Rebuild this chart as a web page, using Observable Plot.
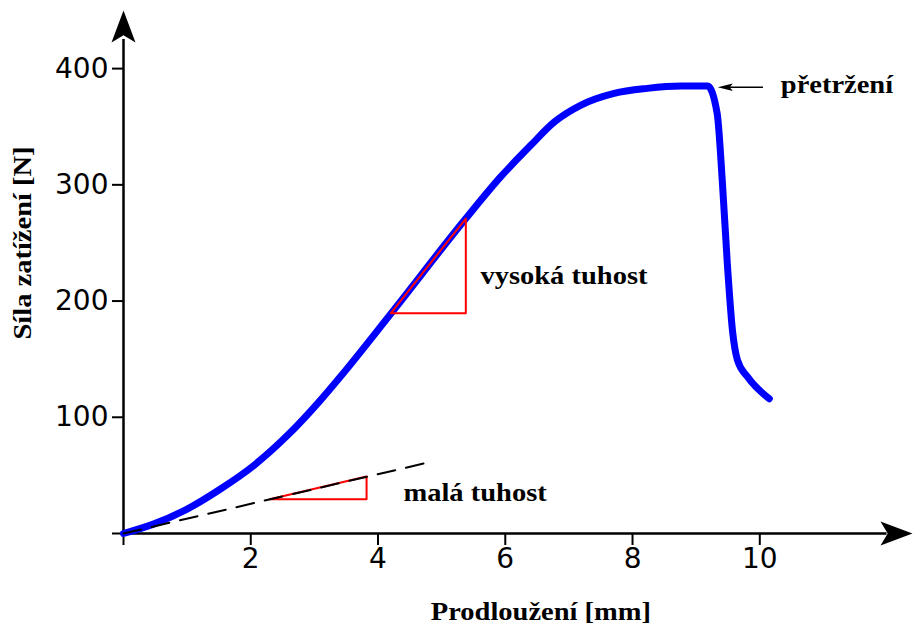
<!DOCTYPE html>
<html><head><meta charset="utf-8">
<script src="https://cdn.jsdelivr.net/npm/d3@7"></script>
<script src="https://cdn.jsdelivr.net/npm/@observablehq/plot@0.6"></script>
<style>body{margin:0;background:#fff;overflow:hidden}</style>
</head><body><div id="chart"></div>
<script>
// Data
const elongation = [0, 0.48, 1.0, 1.53, 2.05, 2.57, 3.10, 3.41, 4.2, 5.38, 5.93, 6.4, 6.77, 7.19, 7.71, 8.23, 8.76, 9.18, 9.33, 9.41, 9.49, 9.57, 9.65, 9.81, 10.15];
const force      = [0, 8.3,  21,  38.5, 58.6, 84,   115,  135, 189, 271,  307,  334, 354,  368.6, 378.7, 383, 385, 385,  361.5, 304, 232, 175, 149, 134.6, 116];

const lowStiffX = [0, 4.78];
const lowStiffY = [0, 61];
const smallTriX = [2.3, 3.82, 3.82, 2.3];
const smallTriY = [29.4, 29.4, 49, 29.4];
const bigTriX = [4.2, 5.38, 5.38, 4.2];
const bigTriY = [189.5, 189.5, 271, 189.5];

const xTicks = [0, 2, 4, 6, 8, 10];
const yTicks = [0, 100, 200, 300, 400];

const labels = [
  {x: 10.33, y: 384, text: "přetržení"},
  {x: 5.61, y: 219.6, text: "vysoká tuhost"},
  {x: 4.4, y: 32.7, text: "malá tuhost"}
];
const xTitle = "Prodloužení [mm]";
const yTitle = "Síla zatížení [N]";

const curve = elongation.map((x, i) => ({x, y: force[i]}));
const dash = lowStiffX.map((x, i) => ({x, y: lowStiffY[i]}));
const smallTri = smallTriX.map((x, i) => ({x, y: smallTriY[i]}));
const bigTri = bigTriX.map((x, i) => ({x, y: bigTriY[i]}));

function head(wf, nf) {
  return {draw(ctx, size) {
    const r = Math.sqrt(size / Math.PI);
    ctx.moveTo(0, -r);
    ctx.lineTo(wf * r, r);
    ctx.lineTo(0, nf * r);
    ctx.lineTo(-wf * r, r);
    ctx.closePath();
  }};
}
const bigHead = head(0.75, 0.55);
const smallHead = head(0.5, 0.6);

const serif = "'Liberation Serif', 'Times New Roman', serif";

const chart = Plot.plot({
  width: 916,
  height: 625,
  marginLeft: 123,
  marginRight: 4,
  marginTop: 10,
  marginBottom: 92,
  x: {domain: [0, 12.4]},
  y: {domain: [0, 450]},
  style: {background: "#fff", fontFamily: "'DejaVu Sans', sans-serif"},
  marks: [
    Plot.axisX({ticks: xTicks, tickFormat: d => d === 0 ? "" : d, tickSize: 12, tickPadding: 3, fontSize: 28, stroke: "#000", strokeWidth: 2, color: "#000", label: null}),
    Plot.axisY({ticks: yTicks, tickFormat: d => d === 0 ? "" : d, tickSize: 11, tickPadding: 4, fontSize: 28, stroke: "#000", strokeWidth: 2, color: "#000", label: null}),
    Plot.ruleX([0], {y1: 0, y2: 425, stroke: "#000", strokeWidth: 2.5}),
    Plot.ruleY([0], {x1: 0, x2: 12.0, stroke: "#000", strokeWidth: 2.5}),
    Plot.dot([{x: 0, y: 450}], {x: "x", y: "y", symbol: bigHead, r: 16, dy: 16, fill: "#000", stroke: null}),
    Plot.dot([{x: 12.4, y: 0}], {x: "x", y: "y", symbol: bigHead, r: 16, dx: -16, rotate: 90, fill: "#000", stroke: null}),
    Plot.line(curve, {x: "x", y: "y", stroke: "#0000ff", strokeWidth: 7, curve: "monotone-x", strokeLinejoin: "round"}),
    Plot.line(bigTri, {x: "x", y: "y", stroke: "#ff0000", strokeWidth: 2}),
    Plot.line(smallTri, {x: "x", y: "y", stroke: "#ff0000", strokeWidth: 2}),
    Plot.line(dash, {x: "x", y: "y", stroke: "#000", strokeWidth: 2, strokeDasharray: "18,11"}),
    Plot.link([{x1: 10.05, x2: 9.5, y: 384}], {x1: "x1", x2: "x2", y1: "y", y2: "y", stroke: "#000", strokeWidth: 1.5}),
    Plot.dot([{x: 9.34, y: 384}], {x: "x", y: "y", symbol: smallHead, r: 7.5, dx: 7.5, rotate: -90, fill: "#000", stroke: null}),
    Plot.text(labels, {x: "x", y: "y", text: "text", textAnchor: "start", lineAnchor: "bottom", fontFamily: serif, fontWeight: "bold", fontSize: 25, fill: "#000", dy: 6}),
    Plot.text([xTitle], {x: 6.56, frameAnchor: "bottom", lineAnchor: "bottom", dy: 86, fontFamily: serif, fontWeight: "bold", fontSize: 25, fill: "#000"}),
    Plot.text([yTitle], {y: 250, frameAnchor: "left", textAnchor: "middle", rotate: -90, dx: -101, fontFamily: serif, fontWeight: "bold", fontSize: 25, fill: "#000"})
  ]
});
// Reference serif labels are horizontally stretched; widen them slightly
d3.select(chart).selectAll("g[aria-label='text'] text").each(function() {
  const t = this.getAttribute("transform") || "";
  this.setAttribute("transform", t + " scale(1.14,1)");
});
document.getElementById("chart").appendChild(chart);
</script>
</body></html>
